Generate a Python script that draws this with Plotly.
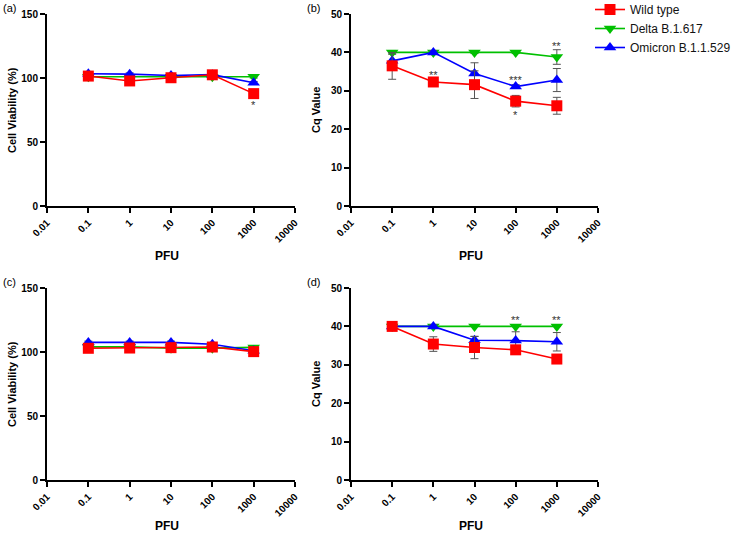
import math
import plotly.graph_objects as go

W, H = 735, 534

pfu = [0.1, 1, 10, 100, 1000]
series_names = ["Wild type", "Delta B.1.617", "Omicron B.1.1.529"]
colors = {"Wild type": "#ff0000", "Delta B.1.617": "#00c000", "Omicron B.1.1.529": "#0000ff"}
symbols = {"Wild type": "square", "Delta B.1.617": "triangle-down", "Omicron B.1.1.529": "triangle-up"}
ranks = {"Wild type": 1, "Delta B.1.617": 2, "Omicron B.1.1.529": 3}

# Panel (a): cell viability
a_wild = [101.5, 97.7, 100.2, 102.5, 87.8]
a_wild_err = [1.5, 1.5, 1.5, 1.5, 1.5]
a_delta = [101.0, 101.0, 101.0, 101.0, 101.0]
a_delta_err = [1.5, 1.0, 1.0, 1.5, 1.0]
a_omi = [103.3, 103.0, 102.0, 102.6, 96.3]
a_omi_err = [1.5, 1.0, 1.0, 1.0, 1.0]

# Panel (b): Cq value
b_wild = [36.5, 32.3, 31.6, 27.3, 26.1]
b_wild_err = [3.5, 0.5, 3.6, 1.5, 2.2]
b_delta = [40.0, 40.0, 40.0, 40.0, 38.8]
b_delta_err = [0.5, 0.3, 0.3, 0.3, 1.9]
b_omi = [37.8, 40.0, 34.5, 31.1, 32.8]
b_omi_err = [2.0, 0.5, 2.8, 0.5, 3.0]

# Panel (c): cell viability
c_wild = [102.9, 103.1, 103.4, 103.9, 100.3]
c_wild_err = [1.0, 1.0, 1.0, 1.0, 1.0]
c_delta = [104.0, 104.0, 103.0, 103.0, 103.6]
c_delta_err = [1.0, 1.0, 1.5, 1.5, 1.0]
c_omi = [107.5, 107.5, 107.5, 106.0, 101.0]
c_omi_err = [1.0, 1.0, 1.0, 1.0, 1.0]

# Panel (d): Cq value
d_wild = [40.0, 35.4, 34.5, 33.9, 31.5]
d_wild_err = [0.0, 1.9, 2.9, 0.5, 0.5]
d_delta = [40.0, 40.0, 40.0, 40.0, 40.0]
d_delta_err = [0.0, 0.3, 0.0, 0.0, 0.0]
d_omi = [40.0, 40.0, 36.4, 36.3, 36.0]
d_omi_err = [0.0, 0.5, 1.0, 2.3, 2.4]

panel_data = {
    "a": {"Wild type": (a_wild, a_wild_err), "Delta B.1.617": (a_delta, a_delta_err), "Omicron B.1.1.529": (a_omi, a_omi_err)},
    "b": {"Wild type": (b_wild, b_wild_err), "Delta B.1.617": (b_delta, b_delta_err), "Omicron B.1.1.529": (b_omi, b_omi_err)},
    "c": {"Wild type": (c_wild, c_wild_err), "Delta B.1.617": (c_delta, c_delta_err), "Omicron B.1.1.529": (c_omi, c_omi_err)},
    "d": {"Wild type": (d_wild, d_wild_err), "Delta B.1.617": (d_delta, d_delta_err), "Omicron B.1.1.529": (d_omi, d_omi_err)},
}

# significance marks
sig_panels = ["a", "b", "b", "b", "b", "d", "d"]
sig_x = [1000, 1, 100, 100, 1000, 100, 1000]
sig_y = [79, 34.0, 32.9, 23.6, 41.7, 41.7, 41.7]
sig_text = ["*", "**", "***", "*", "**", "**", "**"]

x_tickvals = [0.01, 0.1, 1, 10, 100, 1000, 10000]
x_ticktext = ["0.01", "0.1", "1", "10", "100", "1000", "10000"]
via_ticks = [0, 50, 100, 150]
cq_ticks = [0, 10, 20, 30, 40, 50]

# panel geometry in screen pixels: (left, right, top, bottom)
geom = {"a": (47, 295, 14, 206), "b": (351, 598, 14, 206),
        "c": (47, 295, 288, 480), "d": (351, 598, 288, 480)}
axis_ids = {"a": ("x", "y"), "b": ("x2", "y2"), "c": ("x3", "y3"), "d": ("x4", "y4")}
pfu_title_gap = {"a": 50, "b": 50, "c": 46, "d": 46}


def px(x):
    return x / W


def py(y):
    return 1 - y / H


fig = go.Figure()
FONT = "Liberation Sans, Arial, sans-serif"

for p in ["a", "b", "c", "d"]:
    xa, ya = axis_ids[p]
    for name in ["Delta B.1.617", "Omicron B.1.1.529", "Wild type"]:
        vals, errs = panel_data[p][name]
        fig.add_trace(go.Scatter(
            x=pfu, y=vals, xaxis=xa, yaxis=ya, name=name,
            mode="lines+markers",
            line=dict(color=colors[name], width=1.6),
            marker=dict(symbol=symbols[name], size=11, color=colors[name]),
            error_y=dict(type="data", array=errs, visible=True, color="#555555", thickness=1, width=4),
            showlegend=(p == "b"), legendrank=ranks[name], cliponaxis=False,
        ))

layout = dict(
    width=W, height=H, margin=dict(l=0, r=0, t=0, b=0, autoexpand=False),
    paper_bgcolor="white", plot_bgcolor="white",
    showlegend=True,
    legend=dict(x=px(590), y=py(-5), xanchor="left", yanchor="top",
                font=dict(family=FONT, size=12, color="#111"), tracegroupgap=0,
                itemwidth=30, bgcolor="rgba(0,0,0,0)"),
)

annotations = []
for p in ["a", "b", "c", "d"]:
    l, r, t, b = geom[p]
    xa, ya = axis_ids[p]
    xkey = "xaxis" + xa[1:]
    ykey = "yaxis" + ya[1:]
    cq = p in ("b", "d")
    layout[xkey] = dict(
        type="log", range=[-2, 4], domain=[px(l), px(r)], anchor=ya, automargin=False,
        tickvals=x_tickvals, ticktext=x_ticktext, tickangle=-45,
        showline=True, linecolor="black", linewidth=2, ticks="outside", ticklen=5,
        tickwidth=2, tickcolor="black", showgrid=False, zeroline=False,
        tickfont=dict(family=FONT, size=10, color="black", weight="bold"),
    )
    layout[ykey] = dict(
        range=[0, 50] if cq else [0, 150], domain=[py(b), py(t)], anchor=xa, automargin=False,
        tickvals=cq_ticks if cq else via_ticks,
        showline=True, linecolor="black", linewidth=2, ticks="outside", ticklen=5,
        tickwidth=2, tickcolor="black", showgrid=False, zeroline=False,
        tickfont=dict(family=FONT, size=10, color="black", weight="bold"),
    )
    annotations.append(dict(text="PFU", x=px((l + r) / 2 - 4), y=py(b + pfu_title_gap[p]), xref="paper", yref="paper",
                            showarrow=False, font=dict(family=FONT, size=12, color="black", weight="bold"),
                            xanchor="center", yanchor="middle"))
    annotations.append(dict(text="Cq Value" if cq else "Cell Viability (%)",
                            x=px(l - 35), y=py((t + b) / 2), xref="paper", yref="paper",
                            showarrow=False, textangle=-90,
                            font=dict(family=FONT, size=11, color="black", weight="bold"),
                            xanchor="center", yanchor="middle"))
    annotations.append(dict(text="(" + p + ")", x=px(l - 46), y=py(t - 6), xref="paper", yref="paper",
                            showarrow=False, font=dict(family=FONT, size=11, color="black"),
                            xanchor="left", yanchor="middle"))

for p, xv, yv, tx in zip(sig_panels, sig_x, sig_y, sig_text):
    xa, ya = axis_ids[p]
    annotations.append(dict(text=tx, x=math.log10(xv), y=yv, xref=xa, yref=ya,
                            showarrow=False, font=dict(family=FONT, size=11, color="#333"),
                            xanchor="center", yanchor="middle"))

layout["annotations"] = annotations
fig.update_layout(**layout)
fig.write_html("out.html", config={"displayModeBar": False, "staticPlot": True},
               post_script="document.body.style.margin='0';document.body.style.padding='0';")
